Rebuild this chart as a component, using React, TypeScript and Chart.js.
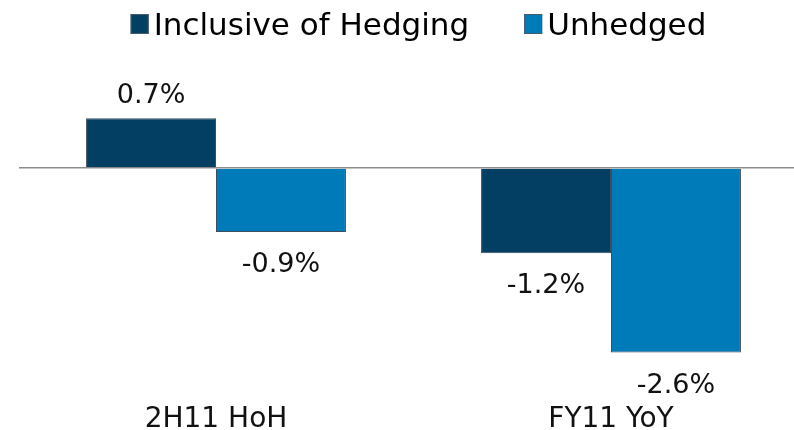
import React, { useEffect, useRef } from "react";
import { Chart, registerables } from "chart.js";

Chart.register(...registerables);

const categories = ["2H11 HoH", "FY11 YoY"];
const seriesNames = ["Inclusive of Hedging", "Unhedged"];
const inclusiveOfHedging = [0.7, -1.2];
const unhedged = [-0.9, -2.6];
const seriesColors = ["#023F63", "#007BBA"];
const yMin = -3;
const yMax = 1;

const FONT = "'DejaVu Sans', Verdana, sans-serif";
const BORDER = "#3E4D5E";

const customLegend = {
  id: "customLegend",
  afterDraw(chart: any) {
    const ctx = chart.ctx;
    const ds = chart.data.datasets;
    ctx.save();
    ctx.font = `31px ${FONT}`;
    const box = 18;
    const boxH = 20;
    const gap = 5;
    const spacing = 55;
    const widths = ds.map((d: any) => ctx.measureText(d.label).width);
    let total = 0;
    widths.forEach((w: number, i: number) => {
      total += box + gap + w + (i < widths.length - 1 ? spacing : 0);
    });
    const ca = chart.chartArea;
    let x = (ca.left + ca.right) / 2 + 5 - total / 2;
    const boxTop = 14;
    const baseline = 35;
    ds.forEach((d: any, i: number) => {
      ctx.fillStyle = d.backgroundColor;
      ctx.fillRect(x, boxTop, box, boxH);
      ctx.strokeStyle = "#4A5868";
      ctx.lineWidth = 1;
      ctx.strokeRect(x + 0.5, boxTop + 0.5, box - 1, boxH - 1);
      ctx.fillStyle = "#000";
      ctx.textBaseline = "alphabetic";
      ctx.textAlign = "left";
      ctx.fillText(d.label, x + box + gap, baseline);
      x += box + gap + widths[i] + spacing;
    });
    ctx.restore();
  },
};

const valueLabels = {
  id: "valueLabels",
  afterDatasetsDraw(chart: any) {
    const ctx = chart.ctx;
    ctx.save();
    ctx.font = `27px ${FONT}`;
    ctx.fillStyle = "#111";
    ctx.textAlign = "center";
    ctx.textBaseline = "alphabetic";
    chart.data.datasets.forEach((d: any, di: number) => {
      const meta = chart.getDatasetMeta(di);
      meta.data.forEach((el: any, i: number) => {
        const v = d.data[i];
        const y = v >= 0 ? el.y - 15 : el.y + 40;
        ctx.fillText(`${v.toFixed(1)}%`, el.x, y);
      });
    });
    ctx.restore();
  },
};

export default function App() {
  const ref = useRef<HTMLCanvasElement>(null);
  useEffect(() => {
    document.body.style.margin = "0";
    if (!ref.current) return;
    const chart = new Chart(ref.current, {
      type: "bar",
      data: {
        labels: categories,
        datasets: [
          {
            label: seriesNames[0],
            data: inclusiveOfHedging,
            backgroundColor: seriesColors[0],
            borderColor: BORDER,
            borderWidth: 1,
            categoryPercentage: 0.658,
            barPercentage: 1,
          },
          {
            label: seriesNames[1],
            data: unhedged,
            backgroundColor: seriesColors[1],
            borderColor: BORDER,
            borderWidth: 1,
            categoryPercentage: 0.658,
            barPercentage: 1,
          },
        ],
      },
      options: {
        responsive: false,
        animation: false,
        layout: { padding: { top: 97, left: 18.5, right: 1.5, bottom: 0 } },
        plugins: { legend: { display: false }, tooltip: { enabled: false } },
        scales: {
          x: {
            grid: { display: false, drawTicks: false },
            border: { display: false },
            ticks: { font: { family: FONT, size: 28 }, color: "#111", padding: 22 },
            afterFit: (s: any) => {
              s.height = 49;
            },
          },
          y: {
            min: yMin,
            max: yMax,
            z: 1,
            ticks: { display: false },
            border: { display: false },
            grid: {
              drawTicks: false,
              lineWidth: 1.5,
              color: (c: any) => (c.tick && c.tick.value === 0 ? "#8C8C8C" : "rgba(0,0,0,0)"),
            },
            afterFit: (s: any) => {
              s.width = 0;
            },
          },
        },
      },
      plugins: [customLegend, valueLabels],
    });
    return () => chart.destroy();
  }, []);
  return (
    <div style={{ width: 794, height: 430, overflow: "hidden" }}>
      <canvas ref={ref} width={810} height={430} style={{ display: "block", width: 810, height: 430 }} />
    </div>
  );
}
